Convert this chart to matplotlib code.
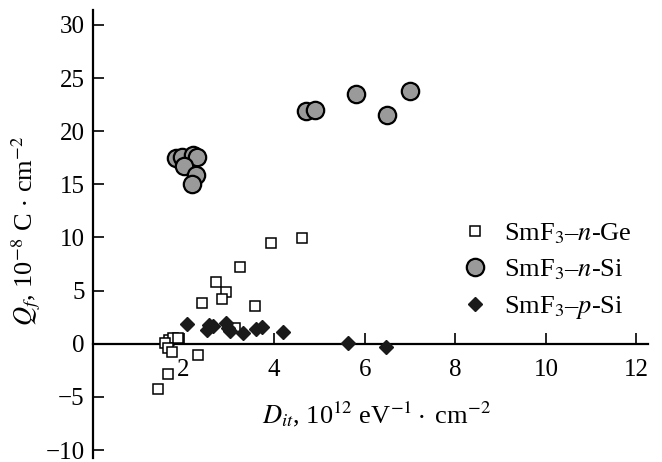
import matplotlib.pyplot as plt

plt.rcParams['font.family'] = ['Liberation Serif', 'DejaVu Serif']
plt.rcParams['mathtext.fontset'] = 'stix'

# SmF3-n-Ge (open squares)
ge_x = [3.93, 4.61, 3.25, 2.72, 2.94, 2.85, 2.41, 3.57, 3.14, 1.67, 1.77, 1.88,
        1.60, 1.66, 1.75, 2.31, 1.66, 1.43]
ge_y = [9.47, 9.91, 7.18, 5.77, 4.89, 4.23, 3.86, 3.51, 1.48, 0.38, 0.56, 0.56,
        0.09, -0.38, -0.75, -1.10, -2.82, -4.23]

# SmF3-n-Si (grey circles)
nsi_x = [1.84, 1.97, 2.21, 2.30, 2.02, 2.28, 2.19, 4.70, 4.90, 5.80, 6.50, 7.00]
nsi_y = [17.5, 17.6, 17.8, 17.6, 16.7, 15.9, 15.0, 21.9, 22.0, 23.5, 21.5, 23.8]

# SmF3-p-Si (black diamonds)
psi_x = [2.07, 2.52, 2.56, 2.66, 2.94, 2.97, 3.03, 3.32, 3.60, 3.74, 4.19, 5.62, 6.47]
psi_y = [1.83, 1.32, 1.74, 1.63, 1.93, 1.48, 1.16, 1.01, 1.38, 1.57, 1.08, 0.07, -0.31]

fig = plt.figure(figsize=(6.62, 4.62), dpi=100)
ax = fig.add_axes([0.1405, 0.0087, 0.838, 0.9697])

ax.plot(ge_x, ge_y, 's', ms=7.5, mfc='white', mec='black', mew=1.1, ls='none',
        label='SmF$_3$–$n$-Ge', zorder=3)
ax.plot(nsi_x, nsi_y, 'o', ms=12.5, mfc='#9a9a9a', mec='black', mew=1.6, ls='none',
        label='SmF$_3$–$n$-Si', zorder=3)
ax.plot(psi_x, psi_y, 'D', ms=7.6, mfc='#1a1a1a', mec='#1a1a1a', mew=1, ls='none',
        label='SmF$_3$–$p$-Si', zorder=4)

ax.set_xlim(0, 12.25)
ax.set_ylim(-10.75, 31.4)
ax.spines['top'].set_visible(False)
ax.spines['right'].set_visible(False)
ax.spines['bottom'].set_position(('data', 0))
ax.spines['left'].set_linewidth(1.6)
ax.spines['bottom'].set_linewidth(1.6)

ax.set_xticks([2, 4, 6, 8, 10, 12])
ax.set_yticks([-10, -5, 0, 5, 10, 15, 20, 25, 30])
ax.tick_params(direction='in', length=8, width=1.2, labelsize=18)
ax.tick_params(axis='x', pad=11)
ax.tick_params(axis='y', pad=6)

ax.text(3.74, -6.6, r'$D_{it}$, 10$^{12}$ eV$^{-1}\cdot$ cm$^{-2}$', fontsize=19,
        ha='left', va='center')
fig.text(0.04, 0.50, r'$Q_f$, 10$^{-8}$ C$\,\cdot\,$cm$^{-2}$', fontsize=19,
         rotation=90, ha='center', va='center')

ax.legend(loc='upper left', bbox_to_anchor=(0.657, 0.573), bbox_transform=fig.transFigure,
          frameon=False, fontsize=19, handletextpad=0.5, labelspacing=0.45,
          markerscale=1.0, handlelength=1.2)

plt.savefig('out.png', dpi=100)
